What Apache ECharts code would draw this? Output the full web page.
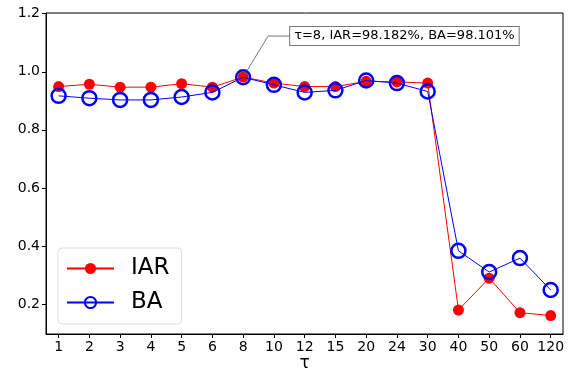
<!DOCTYPE html>
<html>
<head>
<meta charset="utf-8">
<script src="https://cdn.jsdelivr.net/npm/echarts@6/dist/echarts.min.js"></script>
<style>
  html, body { margin: 0; padding: 0; background: #fff; }
  #chart { width: 568px; height: 370px; }
</style>
</head>
<body>
<div id="chart"></div>
<script>
const FONT = 'DejaVu Sans';

const tauLabels = ['1', '2', '3', '4', '5', '6', '8', '10', '12', '15', '20', '24', '30', '40', '50', '60', '120'];
const iarValues = [0.949, 0.957, 0.947, 0.947, 0.959, 0.947, 0.98182, 0.961, 0.949, 0.949, 0.967, 0.965, 0.961, 0.179, 0.289, 0.170, 0.160];
const baValues = [0.917, 0.909, 0.903, 0.903, 0.913, 0.929, 0.98101, 0.955, 0.929, 0.936, 0.970, 0.961, 0.932, 0.383, 0.310, 0.358, 0.248];
const yTicks = [0.2, 0.4, 0.6, 0.8, 1.0, 1.2];

const noteIndex = 6;
const noteText = 'τ=' + tauLabels[noteIndex] + ', IAR=' + (iarValues[noteIndex] * 100).toFixed(3) +
  '%, BA=' + (baValues[noteIndex] * 100).toFixed(3) + '%';

const xIdx = tauLabels.map((_, i) => i);
const pairs = arr => arr.map((v, i) => [i, v]);

const chart = echarts.init(document.getElementById('chart'), null, { renderer: 'canvas' });

chart.setOption({
  animation: false,
  textStyle: { fontFamily: FONT },
  grid: {
    left: 46, right: 5, top: 13, bottom: 36,
    outerBoundsMode: 'none',
    containLabel: false,
    show: true, borderColor: '#000', borderWidth: 1, backgroundColor: 'transparent'
  },
  xAxis: {
    type: 'value',
    min: -0.41, max: 16.4,
    name: 'τ',
    nameLocation: 'middle',
    nameGap: 21,
    nameMoveOverlap: false,
    nameTextStyle: { fontFamily: FONT, fontSize: 17, color: '#000' },
    axisLine: { show: true, onZero: false, lineStyle: { color: '#000', width: 1 } },
    axisTick: { show: true, length: 4, customValues: xIdx, lineStyle: { color: '#000' } },
    axisLabel: {
      customValues: xIdx,
      formatter: v => tauLabels[Math.round(v)],
      fontFamily: FONT, fontSize: 14, color: '#000', margin: 6
    },
    splitLine: { show: false }
  },
  yAxis: {
    type: 'value',
    min: 0.0965, max: 1.2025,
    axisLine: { show: true, onZero: false, lineStyle: { color: '#000', width: 1 } },
    axisTick: { show: true, length: 4, customValues: yTicks, lineStyle: { color: '#000' } },
    axisLabel: {
      customValues: yTicks,
      formatter: v => v.toFixed(1),
      fontFamily: FONT, fontSize: 14, color: '#000', margin: 6
    },
    splitLine: { show: false }
  },
  legend: {
    orient: 'vertical',
    left: 58, top: 248,
    padding: [9, 12, 10, 8],
    itemGap: 11,
    itemWidth: 47,
    itemHeight: 14,
    backgroundColor: '#fff',
    borderColor: '#ddd',
    borderWidth: 1,
    borderRadius: 4,
    textStyle: { fontFamily: FONT, fontSize: 23, color: '#000', padding: [0, 0, 0, 12] },
    data: ['IAR', 'BA']
  },
  series: [
    {
      name: 'IAR',
      type: 'line',
      data: pairs(iarValues),
      symbol: 'circle',
      symbolSize: 11,
      lineStyle: { color: '#ff0000', width: 1 },
      itemStyle: { color: '#ff0000', borderWidth: 0 },
      z: 2
    },
    {
      name: 'BA',
      type: 'line',
      data: pairs(baValues),
      symbol: 'circle',
      symbolSize: 14,
      lineStyle: { color: '#0000ff', width: 1 },
      itemStyle: { color: 'rgba(0,0,0,0)', borderColor: '#0000ff', borderWidth: 2.5 },
      z: 3
    }
  ]
});

// annotation pointing at the tau=8 point
const p = chart.convertToPixel({ seriesIndex: 0 }, [noteIndex, iarValues[noteIndex]]);
const elbow = [p[0] + 25, p[1] - 41];
chart.setOption({
  graphic: [
    {
      type: 'polyline',
      shape: { points: [p, elbow, [elbow[0] + 22, elbow[1]]] },
      style: { stroke: '#555', lineWidth: 0.8, fill: null },
      z: 10
    },
    {
      type: 'text',
      x: elbow[0] + 22, y: elbow[1],
      style: {
        text: noteText,
        fontFamily: FONT, fontSize: 13, fill: '#000',
        verticalAlign: 'middle',
        backgroundColor: '#fff',
        borderColor: '#777', borderWidth: 1,
        padding: [3, 4, 2, 4]
      },
      z: 10
    }
  ]
});
</script>
</body>
</html>
